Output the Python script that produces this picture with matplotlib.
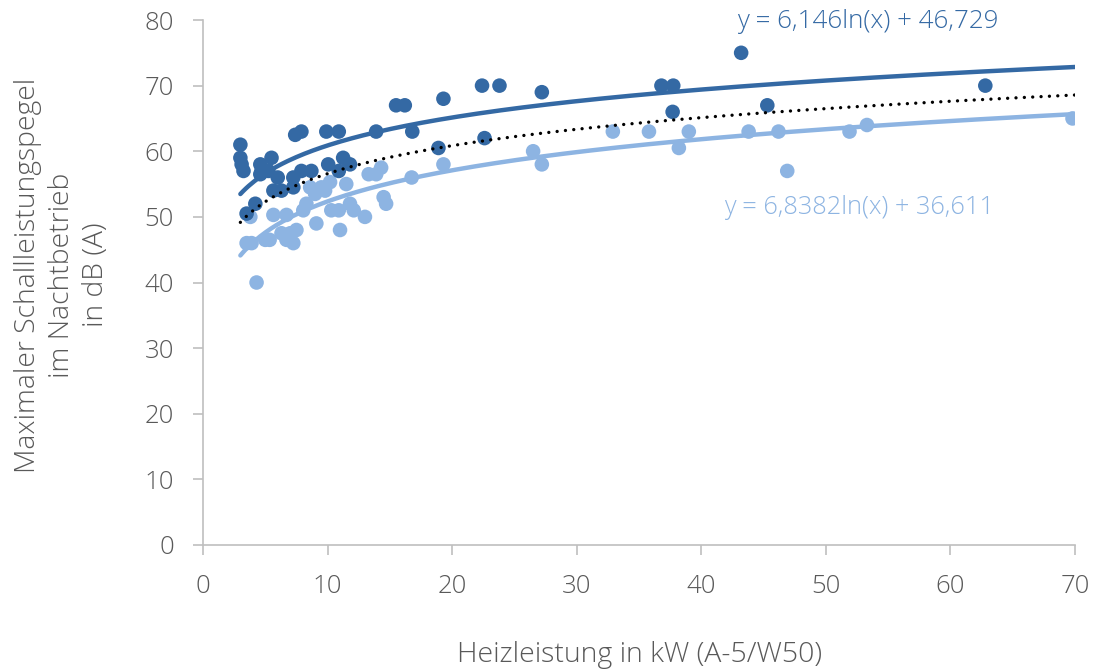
import numpy as np
import matplotlib.pyplot as plt

plt.rcParams['font.family'] = ['Open Sans', 'DejaVu Sans']
plt.rcParams['font.weight'] = 'light'

# Dunkle Reihe (obere Trendlinie)
dark_x = [3.0, 3.0, 3.1, 3.25, 3.5, 4.2, 4.6, 4.7, 4.6, 5.5, 5.25, 6.0, 5.65, 6.3,
          7.25, 7.25, 7.9, 8.7, 7.4, 7.9, 9.9, 10.05, 10.9, 10.9, 11.25, 11.8,
          13.9, 15.5, 16.2, 16.8, 18.9, 19.3, 22.4, 22.6, 23.8, 27.2,
          36.8, 37.75, 37.7, 43.2, 45.3, 62.8]
dark_y = [61, 59, 58, 57, 50.5, 52, 58, 57, 56.5, 59, 57, 56, 54, 54,
          56, 54.5, 57, 57, 62.5, 63, 63, 58, 63, 57, 59, 58,
          63, 67, 67, 63, 60.5, 68, 70, 62, 70, 69,
          70, 70, 66, 75, 67, 70]

# Helle Reihe (untere Trendlinie)
light_x = [3.5, 3.8, 3.9, 4.3, 5.0, 5.35, 5.65, 6.3, 6.7, 6.7, 7.0, 7.25, 7.5,
           8.05, 8.3, 8.6, 9.0, 9.1, 9.5, 9.0, 9.8, 10.2, 10.3, 10.9, 11.0,
           11.5, 11.8, 12.1, 13.0, 13.3, 13.9, 14.3, 14.5, 14.7, 16.75, 19.3,
           26.5, 27.2, 32.9, 35.8, 38.2, 39.0, 43.8, 46.2, 46.9, 51.9, 53.3, 69.8]
light_y = [46, 50, 46, 40, 46.5, 46.5, 50.3, 47.5, 50.3, 46.5, 47.5, 46, 48,
           51, 52, 54.5, 54, 49, 54.5, 53.5, 54, 55.3, 51, 51, 48,
           55, 52, 51, 50, 56.5, 56.5, 57.5, 53, 52, 56, 58,
           60, 58, 63, 63, 60.5, 63, 63, 63, 57, 63, 64, 65]

# Trendlinien laut Diagramm
dark_a, dark_b = 6.146, 46.729
light_a, light_b = 6.8382, 36.611
all_a, all_b = 6.16, 42.4   # gemeinsame Trendlinie (gepunktet)

dark_col = '#3469a4'
light_col = '#8db4e2'
grey = '#595959'

fig = plt.figure(figsize=(10.97, 6.72), dpi=100)
ax = fig.add_axes([203 / 1097, 1 - 545 / 672, 872 / 1097, 525 / 672])

ax.scatter(light_x, light_y, s=110, color=light_col, edgecolors='none', zorder=2)
ax.scatter(dark_x, dark_y, s=110, color=dark_col, edgecolors='none', zorder=3)

xs = np.linspace(3.0, 70, 300)
ax.plot(xs, dark_a * np.log(xs) + dark_b, color=dark_col, lw=3.2, zorder=4,
        solid_capstyle='round')
ax.plot(xs, light_a * np.log(xs) + light_b, color=light_col, lw=3.2, zorder=4,
        solid_capstyle='round')
ax.plot(xs, all_a * np.log(xs) + all_b, color='black', lw=2.4, zorder=5,
        linestyle=(0, (0.01, 2.5)), dash_capstyle='round')

ax.text(42.9, 79.7, 'y = 6,146ln(x) + 46,729', color=dark_col, fontsize=18.7,
        va='center', ha='left')
ax.text(41.8, 51.4, 'y = 6,8382ln(x) + 36,611', color=light_col, fontsize=18.3,
        va='center', ha='left')

ax.set_xlim(0, 70)
ax.set_ylim(0, 80)
ax.set_xticks(range(0, 71, 10))
ax.set_yticks(range(0, 81, 10))
for s in ['top', 'right']:
    ax.spines[s].set_visible(False)
for s in ['left', 'bottom']:
    ax.spines[s].set_color('#bfbfbf')
    ax.spines[s].set_linewidth(1.2)
ax.tick_params(colors='#bfbfbf', labelcolor=grey, labelsize=18.5, length=7,
               width=1.2, pad=14)

fig.text(62 / 1097, 1 - 275 / 672,
         'Maximaler Schallleistungspegel\nim Nachtbetrieb\nin dB (A)',
         rotation=90, ha='center', va='center', multialignment='center',
         fontsize=20.3, color=grey, linespacing=1.3)
fig.text(640 / 1097, 1 - 655 / 672, 'Heizleistung in kW (A-5/W50)',
         ha='center', va='center', fontsize=20.5, color=grey)

fig.savefig('out.png', dpi=100)
